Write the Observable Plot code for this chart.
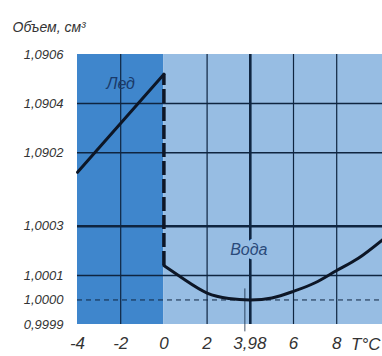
<!DOCTYPE html>
<html><head><meta charset="utf-8">
<script src="https://cdn.jsdelivr.net/npm/d3@7"></script>
<script src="https://cdn.jsdelivr.net/npm/@observablehq/plot@0.6"></script>
<style>
html,body{margin:0;padding:0;background:#fff;}
</style>
</head><body><div id="chart"></div>
<script>
// Data
const title = "Объем, см³";
const xUnit = "T°C";
const iceTemp = [-4, -2, 0];
const iceVolume = [1.09012, 1.09032, 1.09052];
const waterTemp = [0, 1, 2, 3, 3.98, 5, 6, 7, 8, 9, 10.12];
const waterVolume = [1.00014, 1.00008, 1.000028, 1.000006, 1.0, 1.000008, 1.000035, 1.00007, 1.00012, 1.00017, 1.000245];
const xTickValues = [-4, -2, 0, 2, 3.98, 6, 8];
const xTickLabels = ["-4", "-2", "0", "2", "3,98", "6", "8"];
const yTickValues = [0.9999, 1.0000, 1.0001, 1.0003, 1.0902, 1.0904, 1.0906];
const yTickLabels = ["0,9999", "1,0000", "1,0001", "1,0003", "1,0902", "1,0904", "1,0906"];
const regionNames = ["Лед", "Вода"];
const regionStart = [-4, 0];
const regionEnd = [0, 10.12];
const gridXThin = [-2, 2, 6, 8];
const gridXThick = [4];
const gridYThin = [1.0904, 1.0902, 1.0001];
const gridYThick = [1.0003];
const referenceLevel = [1.0000];
const minTemp = 3.98;

// Broken-axis mapping: volume -> display units
function toU(v) {
  return v > 1.05 ? 7 + (v - 1.0902) / 0.0001 : 1 + (v - 1.0) / 0.0001;
}

const ice = iceTemp.map((t, i) => ({t, u: toU(iceVolume[i])}));
const water = waterTemp.map((t, i) => ({t, u: toU(waterVolume[i])}));
const regions = regionNames.map((name, i) => ({name, x1: regionStart[i], x2: regionEnd[i]}));
const yTicksU = yTickValues.map(toU);
const uMin = toU(yTickValues[0]);
const uMax = toU(yTickValues[yTickValues.length - 1]);

const ICE = "#3f86cc", WATER = "#97bde3", GRID = "#0f2540", INK = "#0d1626";
const font = "Liberation Sans, Arial, sans-serif";

const chart = Plot.plot({
  width: 382,
  height: 356,
  marginLeft: 77,
  marginRight: 0,
  marginTop: 54,
  marginBottom: 32,
  style: {fontFamily: font, background: "#fff", overflow: "visible"},
  x: {domain: [regionStart[0], regionEnd[1]]},
  y: {domain: [uMin, uMax]},
  marks: [
    Plot.rect(regions, {x1: "x1", x2: "x2", y1: uMin, y2: uMax, fill: (d, i) => i === 0 ? ICE : WATER}),
    Plot.ruleX(gridXThin, {y1: uMin, y2: uMax, stroke: GRID, strokeWidth: 1.2}),
    Plot.ruleX(gridXThick, {y1: uMin, y2: uMax, stroke: GRID, strokeWidth: 2.6}),
    Plot.ruleY(gridYThin.map(toU), {stroke: GRID, strokeWidth: 1.5}),
    Plot.ruleY(gridYThick.map(toU), {stroke: GRID, strokeWidth: 2.6}),
    Plot.ruleY(referenceLevel.map(toU), {stroke: GRID, strokeWidth: 1, strokeDasharray: "5,4"}),
    Plot.ruleX([minTemp], {y1: toU(0.99987), y2: toU(1.000045), dx: -5, stroke: GRID, strokeWidth: 0.8}),
    Plot.ruleX([0], {y1: toU(waterVolume[0]), y2: toU(iceVolume[iceVolume.length - 1]), stroke: INK, strokeWidth: 3.5, strokeDasharray: "14,4"}),
    Plot.line(ice, {x: "t", y: "u", stroke: INK, strokeWidth: 3}),
    Plot.line(water, {x: "t", y: "u", stroke: INK, strokeWidth: 3, curve: "natural"}),
    Plot.text([regionNames[0]], {x: -2, y: toU(1.09048), text: d => d, fontSize: 16, fontStyle: "italic", fill: "#1a3a6a"}),
    Plot.text([regionNames[1]], {x: 3.93, y: toU(1.000205), text: d => d, fontSize: 16, fontStyle: "italic", fill: "#2a4a7a", stroke: WATER, strokeWidth: 9, paintOrder: "stroke"}),
    Plot.axisY(yTicksU, {
      tickSize: 0, tickPadding: 14, fontSize: 13, fontStyle: "italic", fill: "#333",
      tickFormat: (d) => yTickLabels[yTicksU.indexOf(d)], label: null
    }),
    Plot.axisX(xTickValues, {
      tickSize: 0, tickPadding: 12, fontSize: 17, fontStyle: "italic", fill: "#333",
      tickFormat: (d) => xTickLabels[xTickValues.indexOf(d)], label: null
    }),
    Plot.text([xUnit], {frameAnchor: "bottom-right", dx: -2, dy: 25, text: d => d, fontSize: 17, fontStyle: "italic", fill: "#333", textAnchor: "end"}),
    Plot.text([title], {frameAnchor: "top-left", dx: -65, dy: -23, text: d => d, fontSize: 14, fontStyle: "italic", fill: "#333", textAnchor: "start", lineAnchor: "bottom"})
  ]
});
document.getElementById("chart").appendChild(chart);
</script>
</body></html>
